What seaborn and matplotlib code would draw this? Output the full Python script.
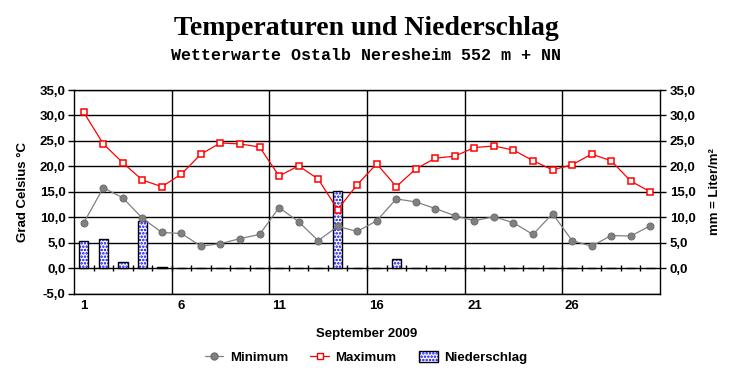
import matplotlib
matplotlib.use('Agg')
import matplotlib.pyplot as plt
import matplotlib.ticker as mticker
from matplotlib.patches import Patch
from matplotlib.lines import Line2D
from matplotlib.legend_handler import HandlerTuple
import seaborn as sns
import numpy as np
import pandas as pd

# Daily values, September 2009
days = list(range(1, 31))
t_min = [8.9, 15.8, 13.8, 9.8, 7.0, 6.8, 4.3, 4.8, 5.8, 6.6,
         11.9, 9.1, 5.4, 8.2, 7.2, 9.3, 13.6, 13.0, 11.7, 10.3,
         9.3, 10.1, 8.9, 6.6, 10.7, 5.4, 4.3, 6.4, 6.3, 8.3]
t_max = [30.6, 24.4, 20.7, 17.3, 16.0, 18.5, 22.4, 24.6, 24.4, 23.8,
         18.1, 20.1, 17.5, 11.5, 16.4, 20.5, 16.0, 19.5, 21.6, 22.0,
         23.7, 24.0, 23.2, 21.1, 19.3, 20.3, 22.4, 21.1, 17.1, 15.0]
precip = [5.4, 5.8, 1.1, 9.3, 0.3, 0, 0, 0, 0, 0,
          0, 0, 0, 15.2, 0, 0, 1.7, 0.1, 0, 0,
          0, 0, 0, 0, 0, 0, 0, 0, 0, 0]
x_labels = [1, 6, 11, 16, 21, 26]

df = pd.DataFrame({'Tag': days, 'Minimum': t_min, 'Maximum': t_max,
                   'Niederschlag': precip})

sns.set_theme(style='white')
plt.rcParams['font.family'] = ['Liberation Sans', 'DejaVu Sans']
plt.rcParams['text.color'] = 'black'
plt.rcParams['axes.labelcolor'] = 'black'
plt.rcParams['xtick.color'] = 'black'
plt.rcParams['ytick.color'] = 'black'
plt.rcParams['hatch.linewidth'] = 1.2

fig = plt.figure(figsize=(7.32, 3.80), dpi=100)
ax = fig.add_axes([0.1011, 0.2276, 0.8005, 0.5355])

# precipitation bars: blue dotted fill, then black outline
sns.barplot(data=df, x='Tag', y='Niederschlag', native_scale=True, width=0.48,
            color='white', edgecolor='#0000ff', linewidth=0, hatch='.....',
            ax=ax, zorder=2)
sns.barplot(data=df, x='Tag', y='Niederschlag', native_scale=True, width=0.48,
            fill=False, edgecolor='black', linewidth=1.0, ax=ax, zorder=3)

sns.lineplot(data=df, x='Tag', y='Minimum', color='#808080', lw=0.9,
             marker='o', markersize=5, markerfacecolor='#808080',
             markeredgecolor='#6e6e6e', ax=ax, zorder=4)
sns.lineplot(data=df, x='Tag', y='Maximum', color='#ff0000', lw=0.9,
             marker='s', markersize=5, markerfacecolor='white',
             markeredgecolor='#ff0000', markeredgewidth=1.1, ax=ax, zorder=5)

ax.set_xlim(0.5, 30.5)
ax.set_ylim(-5, 35)
ax.set_yticks(np.arange(-5, 36, 5))
fmt = mticker.FuncFormatter(lambda v, p: f'{v:.1f}'.replace('.', ','))
ax.yaxis.set_major_formatter(fmt)
ax.set_xticks(x_labels)
ax.set_xticklabels([str(d) for d in x_labels])
ax.set_xticks(np.arange(5.5, 30, 5), minor=True)
ax.tick_params(axis='x', which='both', length=0, pad=5, labelsize=9.5)
ax.tick_params(axis='y', length=4, width=1, color='black', direction='out',
               left=True, pad=2, labelsize=9.5)
for lab in ax.get_xticklabels() + ax.get_yticklabels():
    lab.set_fontweight('bold')

ax.set_axisbelow(True)
ax.grid(True, axis='y', which='major', color='black', lw=1.0)
ax.grid(True, axis='x', which='minor', color='black', lw=1.0)
ax.grid(False, axis='x', which='major')
# small day ticks across the zero line
ax.vlines(np.arange(1.5, 30.5, 1), -0.6, 0.6, color='black', lw=1.0, zorder=1)

for s in ax.spines.values():
    s.set_color('black')
    s.set_linewidth(1.0)

ax.set_xlabel('September 2009', fontsize=9.5, fontweight='bold', labelpad=11)
ax.set_ylabel('Grad Celsius °C', fontsize=9.5, fontweight='bold', labelpad=8)

ax2 = ax.twinx()
ax2.set_ylim(-5, 35)
ax2.set_yticks(np.arange(0, 36, 5))
ax2.yaxis.set_major_formatter(fmt)
ax2.tick_params(axis='y', length=4, width=1, color='black', direction='out',
                right=True, pad=3, labelsize=9.5)
for lab in ax2.get_yticklabels():
    lab.set_fontweight('bold')
for s in ax2.spines.values():
    s.set_visible(False)
ax2.set_ylabel('mm = Liter/m²', fontsize=9.5, fontweight='bold', labelpad=10)

fig.text(0.5, 0.925, 'Temperaturen und Niederschlag', ha='center', va='center',
         fontsize=20, fontweight='bold', family='Liberation Serif')
fig.text(0.5, 0.853, 'Wetterwarte Ostalb Neresheim 552 m + NN', ha='center',
         va='center', fontsize=12, fontweight='bold', family='Liberation Mono')

handles = [
    Line2D([], [], color='#808080', lw=0.9, marker='o', markersize=5,
           markerfacecolor='#808080', markeredgecolor='#6e6e6e'),
    Line2D([], [], color='#ff0000', lw=0.9, marker='s', markersize=5,
           markerfacecolor='white', markeredgecolor='#ff0000'),
    (Patch(facecolor='white', edgecolor='#0000ff', hatch='.....', lw=0),
     Patch(fill=False, edgecolor='black', lw=1.0)),
]
fig.legend(handles, ['Minimum', 'Maximum', 'Niederschlag'], loc='center',
           bbox_to_anchor=(0.5, 0.06), ncol=3, frameon=False,
           prop={'weight': 'bold', 'size': 9.5}, handlelength=1.4,
           handleheight=0.9, columnspacing=1.7, handletextpad=0.5,
           handler_map={tuple: HandlerTuple(ndivide=1, pad=0)})

fig.savefig('out.png', dpi=100)
